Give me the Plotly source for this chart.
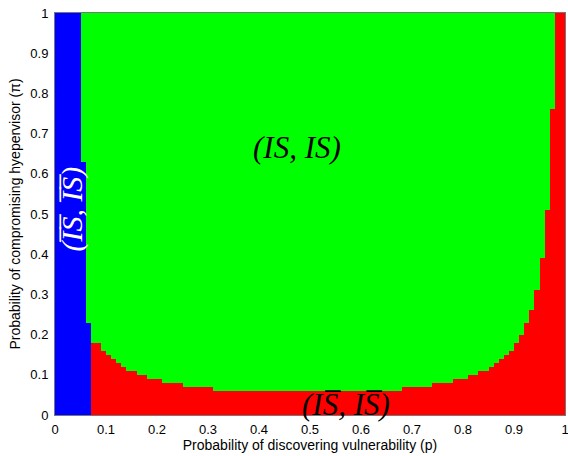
import numpy as np
import plotly.graph_objects as go

# Grid of the parameter space (cell centres), step 0.01
p_vals = [round(0.005 + 0.01 * i, 3) for i in range(100)]
pi_vals = [round(0.005 + 0.01 * i, 3) for i in range(100)]

# Blue region (ĪS̄, ĪS̄): column start p -> top of blue region (until p = 0.07)
blue_start_p = [0.00, 0.05, 0.06]
blue_top_pi = [1.00, 0.63, 0.23]
blue_end_p = 0.07

# Red region (IS̄, IS̄): column start p -> top of red region
red_start_p = [0.07, 0.09, 0.10, 0.11, 0.12, 0.13, 0.14, 0.16, 0.18, 0.21, 0.25, 0.31,
               0.68, 0.74, 0.78, 0.81, 0.83, 0.85, 0.86, 0.87, 0.88, 0.89, 0.90, 0.91,
               0.92, 0.93, 0.94, 0.95, 0.96, 0.97, 0.98]
red_top_pi = [0.18, 0.16, 0.15, 0.14, 0.13, 0.12, 0.11, 0.10, 0.09, 0.08, 0.07, 0.06,
              0.07, 0.08, 0.09, 0.10, 0.11, 0.12, 0.13, 0.14, 0.15, 0.16, 0.18, 0.20,
              0.23, 0.26, 0.31, 0.39, 0.51, 0.76, 1.00]

x_ticks = [0, 0.1, 0.2, 0.3, 0.4, 0.5, 0.6, 0.7, 0.8, 0.9, 1]
y_ticks = [0, 0.1, 0.2, 0.3, 0.4, 0.5, 0.6, 0.7, 0.8, 0.9, 1]

# Build the categorical matrix: 0 blue, 1 green, 2 red
z = np.ones((len(pi_vals), len(p_vals)))
for j, p in enumerate(p_vals):
    if p < blue_end_p:
        k = max(i for i, s in enumerate(blue_start_p) if s <= p)
        for i, y in enumerate(pi_vals):
            if y < blue_top_pi[k]:
                z[i, j] = 0
    else:
        k = max(i for i, s in enumerate(red_start_p) if s <= p)
        for i, y in enumerate(pi_vals):
            if y < red_top_pi[k]:
                z[i, j] = 2

fig = go.Figure(go.Heatmap(
    x=p_vals, y=pi_vals, z=z, zmin=0, zmax=2, zsmooth=False,
    colorscale=[[0, "#0000ff"], [0.333, "#0000ff"], [0.333, "#00ff00"], [0.667, "#00ff00"],
                [0.667, "#ff0000"], [1, "#ff0000"]],
    showscale=False, hoverinfo="skip"))

serif = "Liberation Serif, Times New Roman, serif"
fig.add_annotation(x=0.475, y=0.665, text="<i>(IS, IS)</i>", showarrow=False,
                   font=dict(family=serif, size=31, color="black"))
fig.add_annotation(x=0.570, y=0.025, text="<i>(IS\u0305, IS\u0305)</i>", showarrow=False,
                   font=dict(family=serif, size=31, color="black"))
fig.add_annotation(x=0.033, y=0.513, text="<i>(I\u0305S\u0305, I\u0305S\u0305)</i>", showarrow=False,
                   textangle=-90, font=dict(family=serif, size=30, color="white"))

sans = "Liberation Sans, Arial, Helvetica, sans-serif"
fig.update_layout(
    width=568, height=456,
    margin=dict(l=55, r=3, t=13, b=41),
    paper_bgcolor="white", plot_bgcolor="white",
    font=dict(family=sans, size=13, color="black"),
    xaxis=dict(range=[0, 1], tickvals=x_ticks, ticktext=[f"{v:g}" for v in x_ticks],
               showgrid=False, zeroline=False, showline=True, linecolor="#777", mirror=True,
               ticks="", ticklabeloverflow="allow", ticklabelstandoff=2, automargin=False,
               title=dict(text="Probability of discovering vulnerability (p)",
                          font=dict(size=14), standoff=2)),
    yaxis=dict(range=[0, 1], tickvals=y_ticks, ticktext=[f"{v:g}" for v in y_ticks],
               showgrid=False, zeroline=False, showline=True, linecolor="#777", mirror=True,
               ticks="", ticklabeloverflow="allow", ticklabelstandoff=3, automargin=False,
               title=dict(text="Probability of compromising hyepervisor (\u03c0)",
                          font=dict(size=14), standoff=6)),
)

fig.write_html("out.html")
